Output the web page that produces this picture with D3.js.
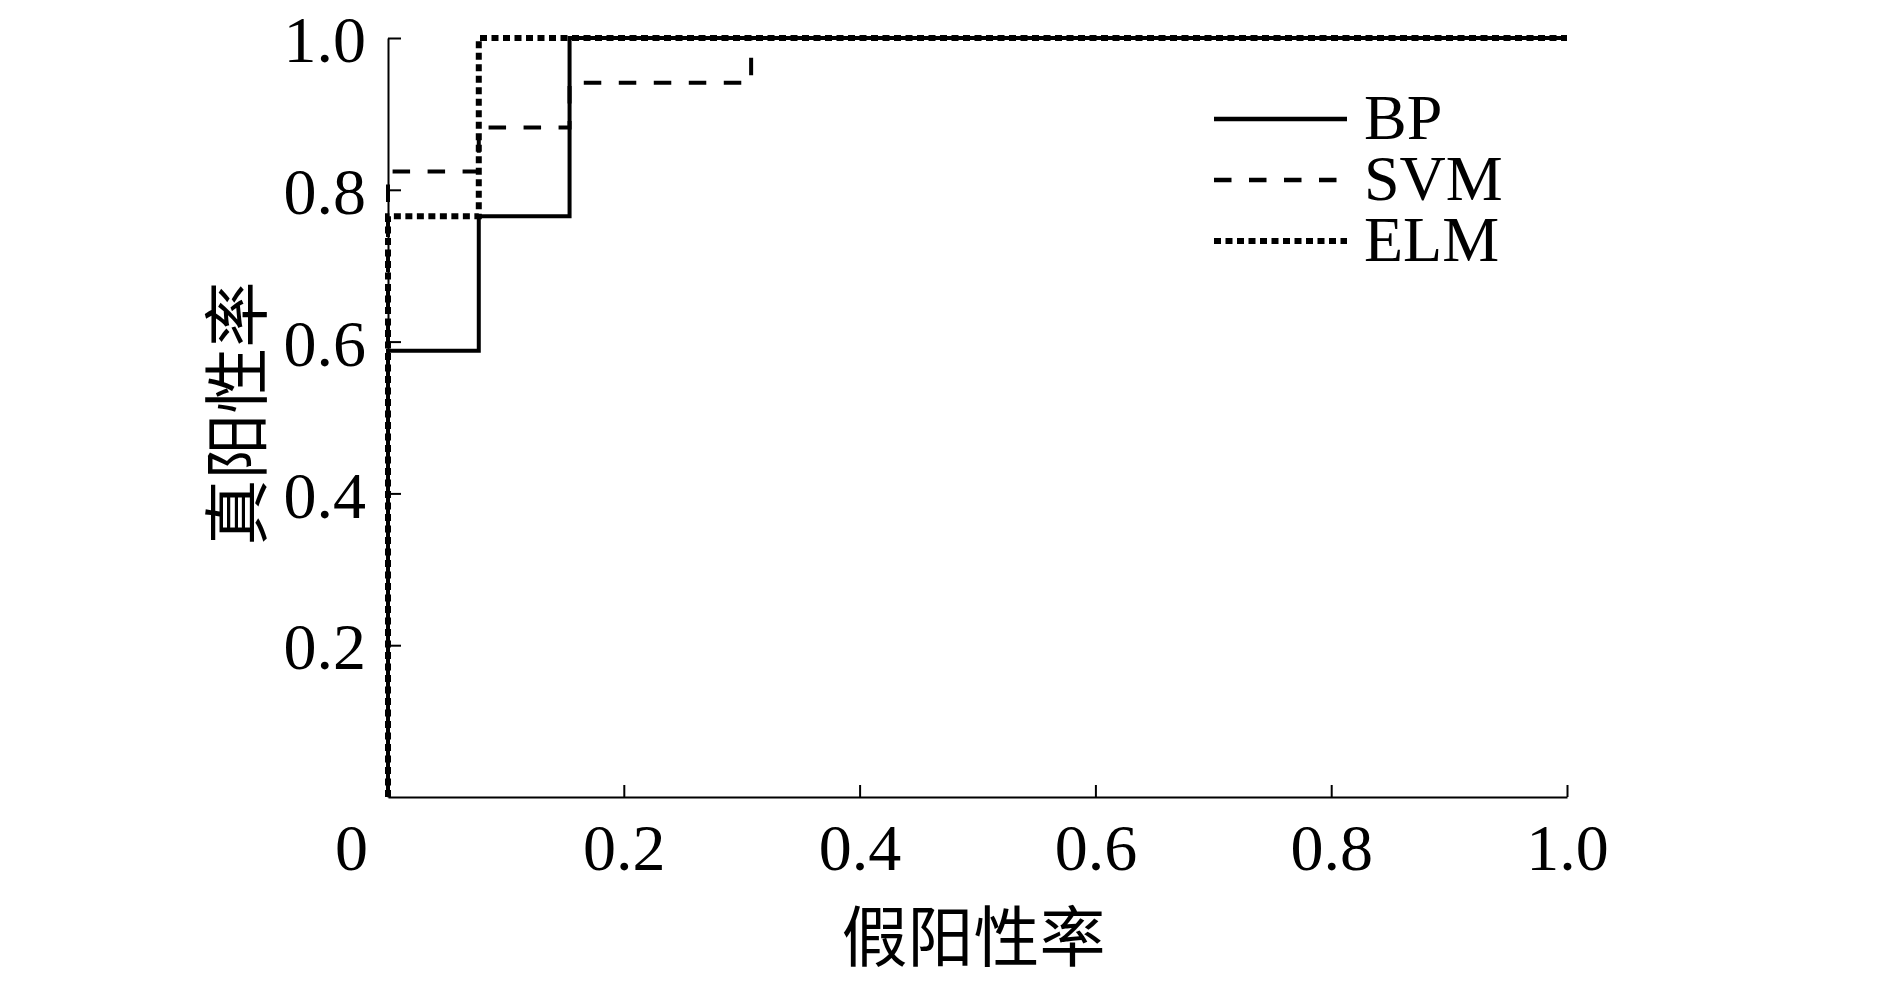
<!DOCTYPE html>
<html lang="zh">
<head>
<meta charset="UTF-8">
<title>ROC</title>
<script src="https://cdnjs.cloudflare.com/ajax/libs/d3/7.8.5/d3.min.js"></script>
<style>
  body { margin: 0; background: #fff; }
  .num { font-family: "Liberation Serif", "Times New Roman", serif; }
  .cjk { font-family: "Noto Sans CJK SC", sans-serif; }
</style>
</head>
<body>
<div id="chart"></div>
<script>
// ROC points (false positive rate, true positive rate)
const seriesNames = ["BP", "SVM", "ELM"];
const bpFpr  = [0, 0, 0.077, 0.077, 0.154, 0.154, 1];
const bpTpr  = [0, 0.588, 0.588, 0.765, 0.765, 1, 1];
const svmFpr = [0, 0, 0.077, 0.077, 0.154, 0.154, 0.308, 0.308, 1];
const svmTpr = [0, 0.824, 0.824, 0.882, 0.882, 0.941, 0.941, 1, 1];
const elmFpr = [0, 0, 0.077, 0.077, 1];
const elmTpr = [0, 0.765, 0.765, 1, 1];
const xTicks = [0, 0.2, 0.4, 0.6, 0.8, 1.0];
const yTicks = [0.2, 0.4, 0.6, 0.8, 1.0];
const xTitle = "假阳性率";
const yTitle = "真阳性率";

const width = 1889, height = 982;
const margin = {left: 388, right: 322, top: 38, bottom: 185};

const svg = d3.select("#chart").append("svg")
  .attr("width", width).attr("height", height);

const x = d3.scaleLinear().domain([0, 1]).range([margin.left, width - margin.right]);
const y = d3.scaleLinear().domain([0, 1]).range([height - margin.bottom, margin.top]);

// styles per series
const dashes = {BP: null, SVM: "17.5,17.5", ELM: "7,4.5"};
const widths = {BP: 4, SVM: 4, ELM: 6};

const series = [
  {name: "BP", pts: d3.zip(bpFpr, bpTpr)},
  {name: "SVM", pts: d3.zip(svmFpr, svmTpr)},
  {name: "ELM", pts: d3.zip(elmFpr, elmTpr)}
];

// axes
const xAxis = svg.append("g")
  .attr("transform", `translate(0,${y(0)})`)
  .call(d3.axisBottom(x).tickValues(xTicks).tickSize(-12).tickSizeOuter(0).tickPadding(26)
    .tickFormat(d => d === 0 ? "0" : d3.format(".1f")(d)));

const yAxis = svg.append("g")
  .attr("transform", `translate(${x(0)},0)`)
  .call(d3.axisLeft(y).tickValues(yTicks).tickSize(-13).tickSizeOuter(0).tickPadding(22)
    .tickFormat(d3.format(".1f")));

[xAxis, yAxis].forEach(g => {
  g.attr("font-size", null).attr("font-family", null);
  g.select(".domain").attr("stroke", "#000").attr("stroke-width", 2);
  g.selectAll(".tick line").attr("stroke", "#000").attr("stroke-width", 2);
  g.selectAll(".tick text").attr("class", "num").style("font-size", "66px").attr("fill", "#000");
});
yAxis.selectAll(".tick text").attr("dy", "0.36em");
// origin label sits left of the axis
xAxis.selectAll(".tick").filter(d => d === 0).select("text").attr("x", -37);

// curves
const line = d3.line().x(d => x(d[0])).y(d => y(d[1]));
svg.selectAll("path.roc")
  .data(series)
  .join("path")
  .attr("class", "roc")
  .attr("d", d => line(d.pts))
  .attr("fill", "none")
  .attr("stroke", "#000")
  .attr("stroke-width", d => widths[d.name])
  .attr("stroke-dasharray", d => dashes[d.name]);

// legend
const legend = svg.append("g").attr("transform", "translate(1214,119)");
const rows = legend.selectAll("g").data(seriesNames).join("g")
  .attr("transform", (d, i) => `translate(0,${i * 61})`);
rows.append("line")
  .attr("x1", 0).attr("x2", 133)
  .attr("stroke", "#000")
  .attr("stroke-width", d => widths[d] === 6 ? 6 : 4.5)
  .attr("stroke-dasharray", d => dashes[d]);
rows.append("text")
  .attr("class", "num")
  .attr("x", 150).attr("y", 20)
  .style("font-size", "64px")
  .text(d => d);

// axis titles
svg.append("text")
  .attr("class", "cjk")
  .attr("x", (x(0) + x(1)) / 2 - 4)
  .attr("y", 932)
  .attr("text-anchor", "middle")
  .attr("dominant-baseline", "central")
  .style("font-size", "66px")
  .text(xTitle);

svg.append("text")
  .attr("class", "cjk")
  .attr("transform", `translate(232,${(y(0) + y(1)) / 2 - 4}) rotate(-90)`)
  .attr("text-anchor", "middle")
  .attr("dominant-baseline", "central")
  .style("font-size", "66px")
  .text(yTitle);
</script>
</body>
</html>
